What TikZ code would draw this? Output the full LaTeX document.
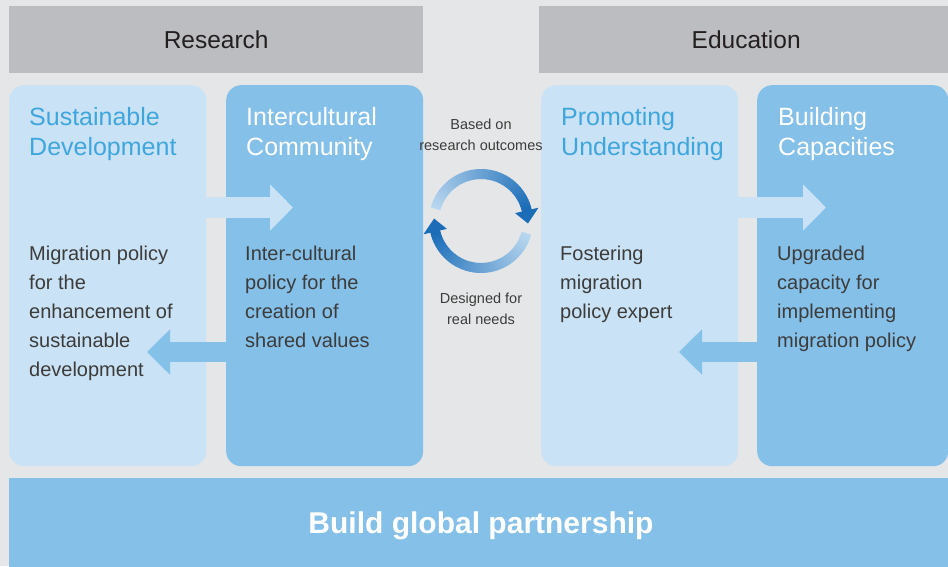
\documentclass[tikz,border=0pt]{standalone}
\usepackage{fontspec}
\setmainfont{Liberation Sans}
\usetikzlibrary{arrows.meta}

\definecolor{bggray}{HTML}{E5E6E8}
\definecolor{headgray}{HTML}{BCBDC0}
\definecolor{boxlight}{HTML}{CAE2F5}
\definecolor{boxdark}{HTML}{85C0E9}
\definecolor{titleblue}{HTML}{3FA6DD}
\definecolor{bodytext}{HTML}{3C3C3B}
\definecolor{headtext}{HTML}{231F20}
\definecolor{cycblue}{HTML}{1B6DB8}

\tikzset{
  header/.style={fill=headgray, text=headtext, minimum width=414pt, minimum height=67pt,
    anchor=north west, inner sep=0, font=\fontsize{24.5}{29}\selectfont},
  lightbox/.style={fill=boxlight, rounded corners=15pt, minimum width=197pt,
    minimum height=381pt, anchor=north west, inner sep=0},
  darkbox/.style={lightbox, fill=boxdark},
  titletxt/.style={align=left, anchor=base west, inner sep=0,
    font=\fontsize{25}{30}\selectfont},
  bodytxt/.style={align=left, anchor=base west, inner sep=0, text=bodytext,
    font=\fontsize{20}{29}\selectfont},
  cyctxt/.style={align=center, anchor=base, inner sep=0, text=bodytext,
    font=\fontsize{14.5}{21}\selectfont},
  blockarrow/.style={line width=21pt, -{Triangle[width=45pt, length=23pt]}},
  cycarc/.style={line width=10pt},
}

\begin{document}
\begin{tikzpicture}[x=1pt, y=-1pt]
  \useasboundingbox (0,0) rectangle (948,566);
  \clip (0,0) rectangle (948,566);
  \fill[bggray] (0,0) rectangle (948,566);

  % headers
  \node[header] (res) at (9,6) {Research};
  \node[header] (edu) at (539,6) {Education};

  % four boxes
  \node[lightbox] (sd) at (9,85) {};
  \node[darkbox] (ic) at (226,85) {};
  \node[lightbox] (pu) at (541,85) {};
  \node[darkbox, minimum width=191pt] (bc) at (757,85) {};

  % partnership band
  \node[fill=boxdark, minimum width=950pt, minimum height=100pt, anchor=north west,
    inner sep=0] (gp) at (9,478) {};
  \node[text=white, anchor=base, inner sep=0, font=\fontsize{30}{36}\selectfont\bfseries]
    (gpt) at (481,533) {Build global partnership};

  % block arrows
  \coordinate (tipa) at (293,207.5);
  \coordinate (tipb) at (147,352);
  \coordinate (tipc) at (826,207.5);
  \coordinate (tipd) at (679,352);
  \draw[blockarrow, boxlight] (sd.east |- 0,207.5) -- (tipa);
  \draw[blockarrow, boxdark, line width=20pt, -{Triangle[width=44pt, length=23pt]}]
    (ic.west |- 0,352) -- (tipb);
  \draw[blockarrow, boxlight] (pu.east |- 0,207.5) -- (tipc);
  \draw[blockarrow, boxdark, line width=20pt, -{Triangle[width=44pt, length=23pt]}]
    (bc.west |- 0,352) -- (tipd);

  % titles (base = last line)
  \node[titletxt, text=titleblue] (sdt) at (29,155) {Sustainable\\Development};
  \node[titletxt, text=white] (ict) at (246,155) {Intercultural\\Community};
  \node[titletxt, text=titleblue] (put) at (561,155) {Promoting\\Understanding};
  \node[titletxt, text=white] (bct) at (778,155) {Building\\Capacities};

  % texts
  \node[bodytxt] (sdb) at (29,376) {Migration policy\\for the\\enhancement of\\sustainable\\development};
  \node[bodytxt] (icb) at (245,347) {Inter-cultural\\policy for the\\creation of\\shared values};
  \node[bodytxt] (pub) at (560,318) {Fostering\\migration\\policy expert};
  \node[bodytxt] (bcb) at (777,347) {Upgraded\\capacity for\\implementing\\migration policy};

  % cycle in the middle
  \node[cyctxt] (based) at (481,150) {Based on\\research outcomes};
  \node[cyctxt] (real) at (481,324) {Designed for\\real needs};
  \coordinate (cyc) at (481,221);
  \begin{scope}[shift={(cyc)}]
    \foreach \a [evaluate=\a as \p using {10+(\a-195)/1.64}] in {195,199,...,343}
      \draw[cycarc, draw=cycblue!\p!boxlight] (\a:47) arc[start angle=\a, delta angle=5, radius=47];
    \fill[cycblue] (347:35) -- (347:59) -- (3:47) -- cycle;
    \foreach \a [evaluate=\a as \p using {10+(\a-15)/1.64}] in {15,19,...,163}
      \draw[cycarc, draw=cycblue!\p!boxlight] (\a:47) arc[start angle=\a, delta angle=5, radius=47];
    \fill[cycblue] (167:35) -- (167:59) -- (183:47) -- cycle;
  \end{scope}
\end{tikzpicture}
\end{document}
